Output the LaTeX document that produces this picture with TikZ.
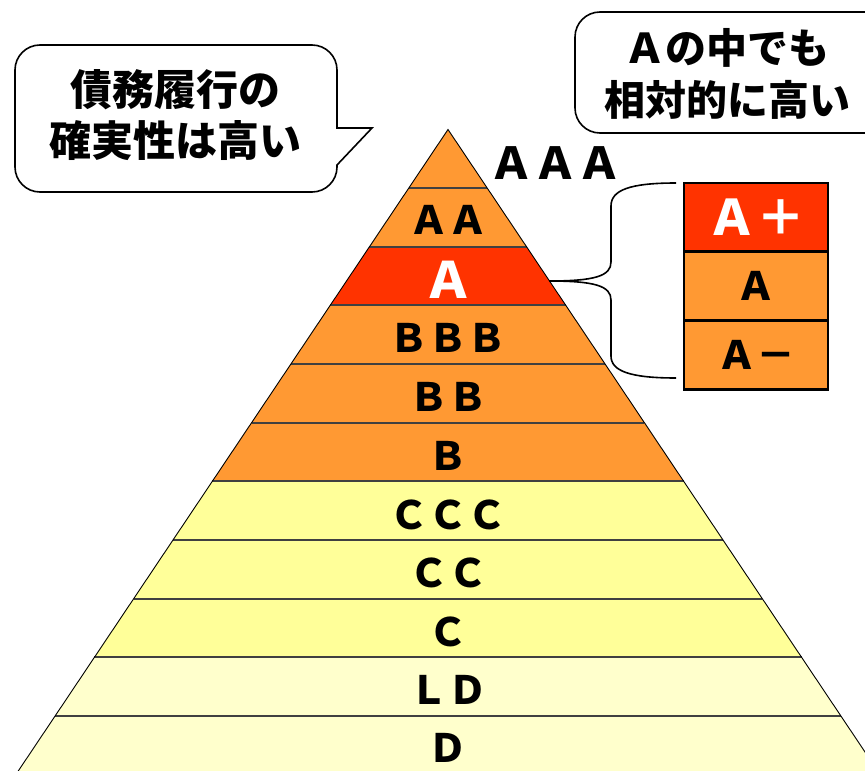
\documentclass[tikz,border=0pt]{standalone}
\usepackage{fontspec}
\newfontfamily\jp{Noto Sans CJK JP}
\definecolor{orng}{HTML}{FF9933}
\definecolor{redb}{HTML}{FF3300}
\definecolor{yel}{HTML}{FFFF99}
\definecolor{lyel}{HTML}{FFFFCC}
\begin{document}
\begin{tikzpicture}[x=1pt,y=-1pt,
  lbl/.style={font=\jp\bfseries\fontsize{39}{40}\selectfont, inner sep=0pt},
  biglbl/.style={font=\jp\bfseries\fontsize{50}{52}\selectfont, inner sep=0pt, text=white},
  cell/.style={draw=black, line width=2.5pt, minimum width=144pt, minimum height=69pt, inner sep=0pt, font=\jp\bfseries\fontsize{39}{40}\selectfont},
  callout/.style={draw=black, line width=1.6pt, fill=white},
  ctext/.style={font=\jp\bfseries\fontsize{42}{51}\selectfont, align=center, inner sep=0pt},
  bracepath/.style={draw=black, line width=1.6pt}
]
\useasboundingbox (0,0) rectangle (865,771);
\begin{scope}
\clip (0,0) rectangle (865,771);
% pyramid bands
\foreach \k/\c in {0/orng,1/orng,2/redb,3/orng,4/orng,5/orng,6/yel,7/yel,8/yel,9/lyel,10/lyel}{
  \pgfmathsetmacro\ya{129.5+58.65*\k}
  \pgfmathsetmacro\yb{129.5+58.65*(\k+1)}
  \pgfmathsetmacro\wa{0.67*58.65*\k}
  \pgfmathsetmacro\wb{0.67*58.65*(\k+1)}
  \fill[\c] (448-\wa,\ya) -- (448+\wa,\ya) -- (448+\wb,\yb) -- (448-\wb,\yb) -- cycle;
}
\foreach \k in {1,...,10}{
  \pgfmathsetmacro\ya{129.5+58.65*\k}
  \pgfmathsetmacro\wa{0.67*58.65*\k}
  \draw[black!75, line width=2pt] (448-\wa,\ya) -- (448+\wa,\ya);
}
\coordinate (apex) at (448,129.5);
\coordinate (bl) at (15.8,774.65);
\coordinate (br) at (880.2,774.65);
\draw[black, line width=0.9pt] (bl) -- (apex) -- (br);
% labels
\node[lbl, font=\jp\bfseries\fontsize{44}{46}\selectfont] (lAAA) at (555,163) {ＡＡＡ};
\node[lbl] (lAA) at (448,220) {ＡＡ};
\node[biglbl] (lA) at (448,280) {Ａ};
\node[lbl] (lBBB) at (448,338) {ＢＢＢ};
\node[lbl] (lBB) at (448,397) {ＢＢ};
\node[lbl] (lB) at (448,456) {Ｂ};
\node[lbl] (lCCC) at (448,515) {ＣＣＣ};
\node[lbl] (lCC) at (448,573) {ＣＣ};
\node[lbl] (lC) at (448,632) {Ｃ};
\node[lbl] (lLD) at (448,690) {ＬＤ};
\node[lbl] (lD) at (448,748) {Ｄ};
% right box
\node[cell, fill=redb, text=white, font=\jp\bfseries\fontsize{49}{50}\selectfont] (bp) at (756,217.5) {Ａ＋};
\node[cell, fill=orng] (ba) at (756,286) {Ａ};
\node[cell, fill=orng] (bm) at (756,355) {Ａ－};
% brace
\coordinate (tip) at (549,281);
\coordinate (btop) at (676,183);
\coordinate (bbot) at (676,378);
\draw[bracepath] (tip) .. controls (595,281) and (611,276) .. (611,262) -- (611,206) .. controls (611,190) and (630,183) .. (btop);
\draw[bracepath] (tip) .. controls (595,281) and (611,286) .. (611,300) -- (611,356) .. controls (611,371) and (630,378) .. (bbot);
% left callout
\draw[callout] (337,128) [rounded corners=25pt] -- (337,45) -- (15,45) -- (15,192) -- (337,192) [sharp corners] -- (337,165) -- (372,128) -- cycle;
\node[ctext] (ltxt) at (175,115) {債務履行の\\確実性は高い};
% right callout
\draw[callout, rounded corners=25pt] (575,12) rectangle (920,133);
\node[ctext, font=\jp\bfseries\fontsize{41}{52}\selectfont] (rtxt) at (727,74) {Ａの中でも\\相対的に高い};
\end{scope}
\end{tikzpicture}
\end{document}
